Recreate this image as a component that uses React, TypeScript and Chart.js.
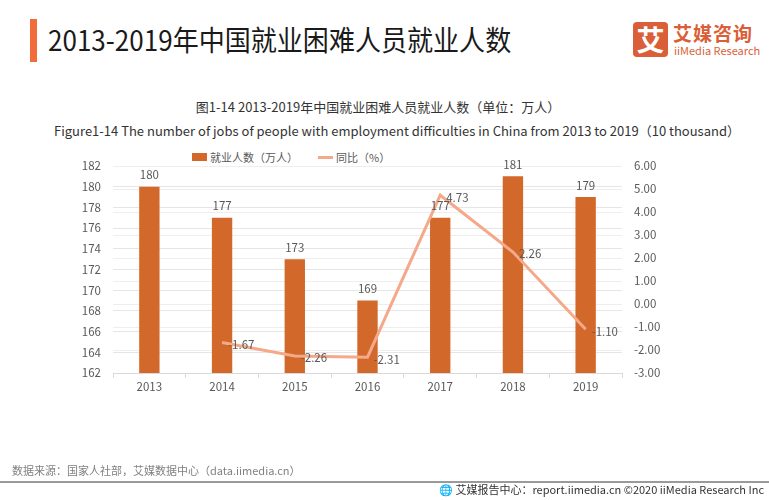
import React, { useEffect, useRef } from "react";
import { Chart, registerables } from "chart.js";

Chart.register(...registerables);

const categories = ["2013", "2014", "2015", "2016", "2017", "2018", "2019"];
const employed = [180, 177, 173, 169, 177, 181, 179];
const yoy: (number | null)[] = [null, -1.67, -2.26, -2.31, 4.73, 2.26, -1.1];
const leftTicks = [162, 182, 2];
const rightTicks = [-3, 6, 1];

const FONT = '"Noto Sans CJK SC", "Noto Sans", sans-serif';
const BAR = "#D2692B";
const LINE = "#F4A98A";
const TXT = "#595959";

const labelPlugin = {
  id: "valueLabels",
  afterDatasetsDraw(chart: any) {
    const ctx = chart.ctx;
    ctx.save();
    ctx.font = `11.5px ${FONT}`;
    ctx.fillStyle = TXT;
    const m0 = chart.getDatasetMeta(0);
    m0.data.forEach((el: any, i: number) => {
      ctx.textAlign = "center";
      ctx.textBaseline = "bottom";
      ctx.fillText(String(employed[i]), el.x, el.y - 6);
    });
    const m1 = chart.getDatasetMeta(1);
    m1.data.forEach((el: any, i: number) => {
      const v = yoy[i];
      if (v === null) return;
      ctx.textAlign = "left";
      ctx.textBaseline = "middle";
      ctx.fillText(v.toFixed(2), el.x + 6, el.y + 2);
    });
    ctx.restore();
  },
};

export default function App() {
  const ref = useRef<HTMLCanvasElement>(null);
  useEffect(() => {
    const chart = new Chart(ref.current!, {
      type: "bar",
      data: {
        labels: categories,
        datasets: [
          {
            type: "bar",
            label: "就业人数（万人）",
            data: employed,
            backgroundColor: BAR,
            yAxisID: "y",
            categoryPercentage: 1,
            barPercentage: 0.28,
            order: 2,
          },
          {
            type: "line",
            label: "同比（%）",
            data: yoy,
            borderColor: LINE,
            backgroundColor: LINE,
            borderWidth: 3,
            pointRadius: 0,
            yAxisID: "y1",
            order: 1,
          } as any,
        ],
      },
      options: {
        animation: false,
        responsive: false,
        layout: { padding: { left: 0, right: 87, top: 166, bottom: 97 } },
        plugins: { legend: { display: false }, title: { display: false }, tooltip: { enabled: false } },
        scales: {
          x: {
            grid: { drawOnChartArea: false, drawTicks: true, tickLength: 5, color: "#d9d9d9", offset: true },
            border: { display: true, color: "#d9d9d9" },
            ticks: { color: TXT, font: { family: FONT, size: 11.5 }, padding: 2 },
            afterFit: (s: any) => { s.height = 30; },
          },
          y: {
            position: "left",
            min: leftTicks[0],
            max: leftTicks[1],
            ticks: { stepSize: leftTicks[2], color: TXT, font: { family: FONT, size: 11.5 }, padding: 12 },
            grid: { color: "#e6e6e6", drawTicks: false },
            border: { display: false },
            afterFit: (s: any) => { s.width = 113; },
          },
          y1: {
            position: "right",
            min: rightTicks[0],
            max: rightTicks[1],
            ticks: {
              stepSize: rightTicks[2],
              color: TXT,
              font: { family: FONT, size: 11.5 },
              padding: 12,
              callback: (v: any) => Number(v).toFixed(2),
            },
            grid: { color: "#eeeeee", drawTicks: false },
            border: { display: false },
            afterFit: (s: any) => { s.width = 60; },
          },
        },
      },
      plugins: [labelPlugin],
    });
    return () => chart.destroy();
  }, []);

  const abs = (s: React.CSSProperties): React.CSSProperties => ({ position: "absolute", margin: 0, whiteSpace: "nowrap", ...s });

  return (
    <div style={{ position: "fixed", left: 0, top: 0, width: 769, height: 500, background: "#fff", fontFamily: FONT, overflow: "hidden" }}>
      <div style={abs({ left: 30, top: 19, width: 7, height: 43, background: "#F26B3A" })} />
      <div style={abs({ left: 48, top: 20, fontSize: 28, lineHeight: "38px", color: "#1a1a1a", transform: "scaleX(0.93)", transformOrigin: "left center" })}>
        2013-2019年中国就业困难人员就业人数
      </div>
      <div style={abs({ left: 633, top: 22, width: 35, height: 35, background: "#DA5F38", borderRadius: 4, color: "#fff", fontSize: 28, lineHeight: "35px", textAlign: "center", fontWeight: 700 })}>艾</div>
      <div style={abs({ left: 673, top: 22, fontSize: 19, lineHeight: "22px", color: "#DA5F38", fontWeight: 700, letterSpacing: 1 })}>艾媒咨询</div>
      <div style={abs({ left: 674, top: 43, fontSize: 11, lineHeight: "14px", color: "#DA5F38" })}>iiMedia Research</div>

      <div style={abs({ left: 0, width: 756, top: 98, textAlign: "center", fontSize: 13, lineHeight: "18px", color: "#333" })}>
        图1-14 2013-2019年中国就业困难人员就业人数（单位：万人）
      </div>
      <div style={abs({ left: 0, width: 794, top: 122, textAlign: "center", fontSize: 13, lineHeight: "18px", color: "#333" })}>
        Figure1-14 The number of jobs of people with employment difficulties in China from 2013 to 2019（10 thousand）
      </div>

      <div style={abs({ left: 192, top: 153, width: 15, height: 8, background: BAR })} />
      <div style={abs({ left: 210, top: 149, fontSize: 11, lineHeight: "16px", color: TXT })}>就业人数（万人）</div>
      <div style={abs({ left: 318, top: 156, width: 15, height: 3, background: LINE })} />
      <div style={abs({ left: 336, top: 149, fontSize: 11, lineHeight: "16px", color: TXT })}>同比（%）</div>

      <canvas ref={ref} width={769} height={500} style={abs({ left: 0, top: 0, width: 769, height: 500 })} />

      <div style={abs({ left: 12, top: 462, fontSize: 11, lineHeight: "16px", color: "#808080" })}>
        数据来源：国家人社部，艾媒数据中心（data.iimedia.cn）
      </div>
      <div style={abs({ left: 0, top: 481, width: 769, height: 2, background: "#9a9a9a" })} />
      <div style={abs({ right: 5, top: 482, fontSize: 11, lineHeight: "15px", color: "#333" })}>
        🌐 艾媒报告中心：report.iimedia.cn  ©2020  iiMedia Research Inc
      </div>
    </div>
  );
}
